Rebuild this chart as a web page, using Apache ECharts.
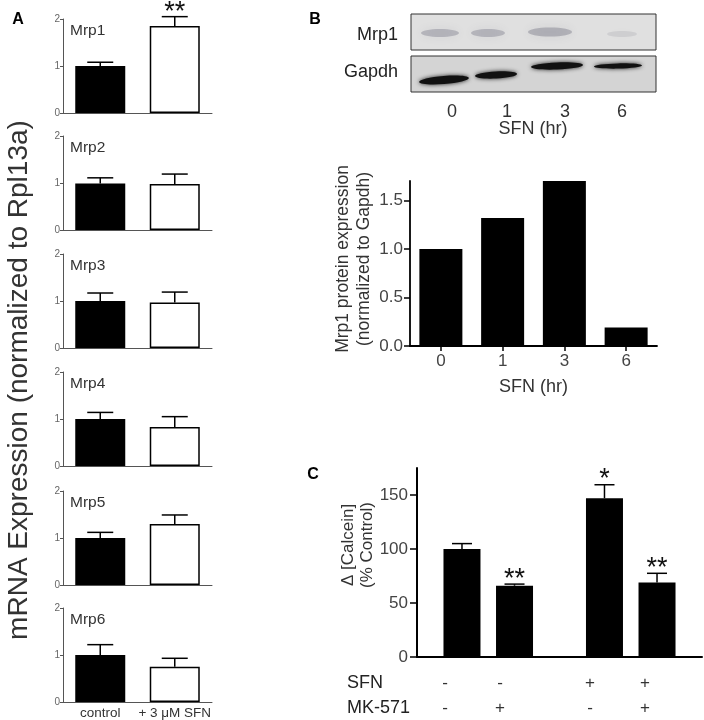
<!DOCTYPE html>
<html>
<head>
<meta charset="utf-8">
<script src="https://cdn.jsdelivr.net/npm/echarts@6/dist/echarts.min.js"></script>
<style>
  html, body { margin: 0; padding: 0; background: #fff; }
  #main { width: 704px; height: 720px; }
</style>
</head>
<body>
<div id="main"></div>
<script>
// ---- data ----
var genes = ['Mrp1', 'Mrp2', 'Mrp3', 'Mrp4', 'Mrp5', 'Mrp6'];
var groupsA = ['control', '+ 3 μM SFN'];
var controlMean = [1.00, 0.99, 1.00, 1.00, 1.00, 1.00];
var controlTop = [1.08, 1.11, 1.17, 1.14, 1.12, 1.22];
var sfnMean = [1.85, 0.98, 0.97, 0.83, 1.30, 0.75];
var sfnTop = [2.05, 1.19, 1.19, 1.05, 1.49, 0.93];
var sfnSig = ['**', '', '', '', '', ''];
var ticksA = [0, 1, 2];

var timeLabels = ['0', '1', '3', '6'];
var proteinExpr = [1.00, 1.32, 1.70, 0.19];
var ticksB = [0, 0.5, 1.0, 1.5];

var groupsC = ['SFN -', 'SFN +'];
var noMkMean = [100, 147];
var noMkTop = [105, 159.5];
var noMkSig = ['', '*'];
var mkMean = [66, 69];
var mkTop = [67.5, 77.5];
var mkSig = ['**', '**'];
var ticksC = [0, 50, 100, 150];
var sfnSigns = ['-', '-', '+', '+'];
var mkSigns = ['-', '+', '-', '+'];

// ---- layout ----
var FONT = "'Liberation Sans', Arial, Helvetica, sans-serif";
var gridTopA = [19, 136, 254, 372, 491, 608];
var GRID_H_A = 94;
var BW_C = 37;
var signX = [445, 500, 590, 645];

var chartDom = document.getElementById('main');
var myChart = echarts.init(chartDom);
var option;

// whisker (upper error bar) + significance stars, drawn through the axes
function whisker(dx, capW, sigs, starGap) {
    return function (params, api) {
        var c = api.value(0);
        var x = api.coord([c, 0])[0] + dx;
        var yMean = api.coord([c, api.value(1)])[1];
        var yTop = api.coord([c, api.value(2)])[1];
        var st = { stroke: '#000', lineWidth: 1.5 };
        var kids = [
            { type: 'line', shape: { x1: x, y1: yMean, x2: x, y2: yTop }, style: st },
            { type: 'line', shape: { x1: x - capW / 2, y1: yTop, x2: x + capW / 2, y2: yTop }, style: st }
        ];
        var s = sigs[params.dataIndex];
        if (s) {
            kids.push({
                type: 'text', x: x, y: yTop - starGap,
                style: { text: s, fill: '#111', fontSize: 27, fontFamily: FONT, textAlign: 'center', textVerticalAlign: 'middle' }
            });
        }
        return { type: 'group', children: kids };
    };
}

var grids = [], xAxes = [], yAxes = [], series = [], graphics = [];

// panel A: six small charts
genes.forEach(function (g, i) {
    grids.push({ left: 63, top: gridTopA[i], width: 149, height: GRID_H_A });
    xAxes.push({
        gridIndex: i, type: 'category', data: groupsA,
        axisLine: { lineStyle: { color: '#555', width: 1 } },
        axisTick: { show: false },
        axisLabel: { show: i === genes.length - 1, color: '#333', fontSize: 13.5, margin: 4, interval: 0 }
    });
    yAxes.push({
        gridIndex: i, type: 'value', min: 0, max: 2, interval: 1,
        splitLine: { show: false },
        axisLine: { show: true, lineStyle: { color: '#555', width: 1 } },
        axisTick: { show: true, length: 3, lineStyle: { color: '#555' } },
        axisLabel: { fontSize: 10, color: '#666', margin: 3 }
    });
    series.push({
        type: 'bar', xAxisIndex: i, yAxisIndex: i, barWidth: 50,
        data: [
            { value: controlMean[i], itemStyle: { color: '#000' } },
            { value: sfnMean[i], itemStyle: { color: '#fff', borderColor: '#000', borderWidth: 1.5 } }
        ]
    });
    series.push({
        type: 'custom', xAxisIndex: i, yAxisIndex: i, clip: false, z: 5,
        renderItem: whisker(0, 26, ['', sfnSig[i]], 4),
        data: [[0, controlMean[i], controlTop[i]], [1, sfnMean[i], sfnTop[i]]]
    });
    graphics.push({
        type: 'text', x: 70, y: gridTopA[i] + 12,
        style: { text: g, fill: '#333', fontSize: 15.5, fontFamily: FONT, textVerticalAlign: 'middle' }
    });
});

// panel B: bar chart
var bi = grids.length;
grids.push({ left: 410, top: 181, width: 247, height: 165 });
xAxes.push({
    gridIndex: bi, type: 'category', data: timeLabels,
    name: 'SFN (hr)', nameLocation: 'middle', nameGap: 32,
    nameTextStyle: { fontSize: 18, color: '#333' },
    axisLine: { lineStyle: { color: '#000', width: 1.8 } },
    axisTick: { show: true, alignWithLabel: true, length: 5, lineStyle: { color: '#000', width: 1.5 } },
    axisLabel: { fontSize: 17, color: '#444', margin: 7 }
});
yAxes.push({
    gridIndex: bi, type: 'value', min: 0, max: 1.7, interval: 0.5,
    splitLine: { show: false },
    axisLine: { show: true, lineStyle: { color: '#000', width: 1.8 } },
    axisTick: { show: true, length: 6, customValues: ticksB, lineStyle: { color: '#000', width: 1.5 } },
    axisLabel: { fontSize: 17, color: '#444', margin: 7, customValues: ticksB, formatter: function (v) { return v.toFixed(1); } }
});
series.push({
    type: 'bar', xAxisIndex: bi, yAxisIndex: bi, barWidth: 43,
    itemStyle: { color: '#000' }, data: proteinExpr
});

// panel C: grouped bars
var ci = grids.length;
grids.push({ left: 417, top: 468, width: 285, height: 189 });
xAxes.push({
    gridIndex: ci, type: 'category', data: groupsC,
    axisLine: { lineStyle: { color: '#000', width: 2 } },
    axisTick: { show: false }, axisLabel: { show: false }
});
yAxes.push({
    gridIndex: ci, type: 'value', min: 0, max: 175, interval: 50,
    splitLine: { show: false },
    axisLine: { show: true, lineStyle: { color: '#000', width: 2 } },
    axisTick: { show: true, length: 7, customValues: ticksC, lineStyle: { color: '#000', width: 1.5 } },
    axisLabel: { fontSize: 17, color: '#444', margin: 9, customValues: ticksC }
});
series.push({
    type: 'bar', xAxisIndex: ci, yAxisIndex: ci, barWidth: BW_C, barGap: '42%',
    itemStyle: { color: '#000' }, data: noMkMean
});
series.push({
    type: 'bar', xAxisIndex: ci, yAxisIndex: ci, barWidth: BW_C, barGap: '42%',
    itemStyle: { color: '#000' }, data: mkMean
});
var offC = BW_C * 1.42 / 2;
series.push({
    type: 'custom', xAxisIndex: ci, yAxisIndex: ci, clip: false, z: 5,
    renderItem: whisker(-offC, 20, noMkSig, 5),
    data: noMkMean.map(function (v, k) { return [k, v, noMkTop[k]]; })
});
series.push({
    type: 'custom', xAxisIndex: ci, yAxisIndex: ci, clip: false, z: 5,
    renderItem: whisker(offC, 20, mkSig, 5),
    data: mkMean.map(function (v, k) { return [k, v, mkTop[k]]; })
});

// ---- texts and the blot picture ----
function txt(x, y, s, size, extra) {
    var st = { text: s, fill: '#222', fontSize: size, fontFamily: FONT, textAlign: 'center', textVerticalAlign: 'middle' };
    for (var k in (extra || {})) st[k] = extra[k];
    return { type: 'text', x: x, y: y, style: st };
}
function vtxt(x, y, s, size, extra) {
    var t = txt(x, y, s, size, extra);
    t.rotation = Math.PI / 2;
    return t;
}
graphics.push(txt(18, 20, 'A', 16, { fontWeight: 'bold', fill: '#000' }));
graphics.push(txt(315, 20, 'B', 16, { fontWeight: 'bold', fill: '#000' }));
graphics.push(txt(313, 475, 'C', 16, { fontWeight: 'bold', fill: '#000' }));
graphics.push(vtxt(19, 380, 'mRNA Expression (normalized to Rpl13a)', 28, { fill: '#333' }));
graphics.push(vtxt(343, 259, 'Mrp1 protein expression', 17.5, { fill: '#333' }));
graphics.push(vtxt(364, 259, '(normalized to Gapdh)', 17.5, { fill: '#333' }));
graphics.push(vtxt(348, 545, 'Δ [Calcein]', 17, { fill: '#333' }));
graphics.push(vtxt(367, 545, '(% Control)', 17, { fill: '#333' }));

// blot
graphics.push({ type: 'rect', shape: { x: 411, y: 14, width: 245, height: 36 }, style: { fill: '#e0e0e0', stroke: '#333', lineWidth: 1 } });
graphics.push({ type: 'rect', shape: { x: 411, y: 56, width: 245, height: 36 }, style: { fill: '#d4d4d4', stroke: '#333', lineWidth: 1 } });
var smudges = [[440, 33, 19, 4, 0.3], [488, 33, 17, 4, 0.3], [550, 32, 22, 4.5, 0.33], [622, 34, 15, 3, 0.12]];
smudges.forEach(function (s) {
    graphics.push({ type: 'ellipse', x: s[0], y: s[1], shape: { cx: 0, cy: 0, rx: s[2], ry: s[3] },
        style: { fill: 'rgba(90,90,110,' + s[4] + ')', shadowBlur: 10, shadowColor: 'rgba(90,90,110,' + s[4] + ')' } });
});
var bands = [[444, 80, 25, 4, 0.08], [496, 75, 21, 3.5, 0.05], [557, 66, 26, 3.5, 0.04], [618, 66, 24, 2.6, 0.02]];
bands.forEach(function (b) {
    graphics.push({ type: 'ellipse', x: b[0], y: b[1], rotation: b[4], shape: { cx: 0, cy: 0, rx: b[2], ry: b[3] },
        style: { fill: '#111', shadowBlur: 4, shadowColor: '#222' } });
});
graphics.push(txt(398, 35, 'Mrp1', 18, { textAlign: 'right' }));
graphics.push(txt(398, 72, 'Gapdh', 18, { textAlign: 'right' }));
var laneX = [452, 507, 565, 622];
timeLabels.forEach(function (t, k) { graphics.push(txt(laneX[k], 112, t, 18, { fill: '#333' })); });
graphics.push(txt(533, 129, 'SFN (hr)', 18, { fill: '#333' }));

// treatment table under C
graphics.push(txt(347, 683, 'SFN', 18, { textAlign: 'left' }));
graphics.push(txt(347, 708, 'MK-571', 18, { textAlign: 'left' }));
sfnSigns.forEach(function (s, k) { graphics.push(txt(signX[k], 683, s, 17, { fill: '#333' })); });
mkSigns.forEach(function (s, k) { graphics.push(txt(signX[k], 708, s, 17, { fill: '#333' })); });

option = {
    animation: false,
    backgroundColor: '#fff',
    textStyle: { fontFamily: FONT },
    grid: grids,
    xAxis: xAxes,
    yAxis: yAxes,
    series: series,
    graphic: { elements: graphics }
};

option && myChart.setOption(option);
</script>
</body>
</html>
